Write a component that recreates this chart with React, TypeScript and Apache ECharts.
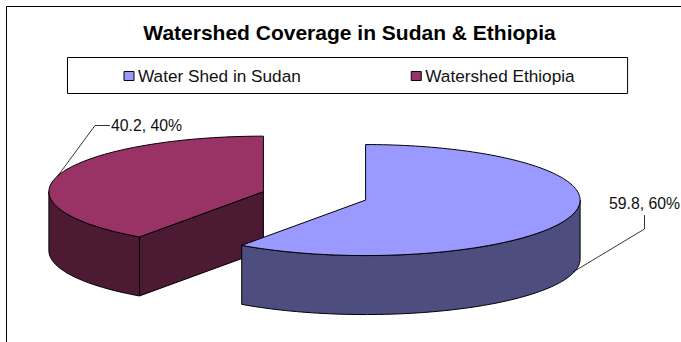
import React, { useEffect, useRef } from "react";
import * as echarts from "echarts";

const titleText = "Watershed Coverage in Sudan & Ethiopia";
const sliceNames = ["Water Shed in Sudan", "Watershed Ethiopia"];
const sliceValues = [59.8, 40.2];
const topColors = ["#9999FF", "#993366"];
const sideColors = ["#4D4D80", "#4D1A33"];
// Callout routes, starting next to the text and ending on the rim of the slice.
const leaderRoutes = [
  [[644.5, 215], [644.5, 229], [573, 272]],
  [[110, 125.5], [95, 125.5], [57, 177]],
];
const labelAnchors = [
  { x: 644.5, y: 203 },
  { x: 146.5, y: 125 },
];

const FONT = '"Liberation Sans", Arial, sans-serif';
const PIE = { cx: 314.5, cy: 195.85, rx: 214.5, ry: 55.5, depth: 59, explode: 0.25 };
const total = sliceValues.reduce((a, b) => a + b, 0);

function rimPoint(cx: number, cy: number, deg: number) {
  const r = (deg * Math.PI) / 180;
  return [cx + PIE.rx * Math.sin(r), cy - PIE.ry * Math.cos(r)];
}

function arcPoints(cx: number, cy: number, from: number, to: number) {
  const steps = Math.max(2, Math.ceil((to - from) / 1.5));
  const pts: number[][] = [];
  for (let i = 0; i <= steps; i++) pts.push(rimPoint(cx, cy, from + ((to - from) * i) / steps));
  return pts;
}

// One exploded slice: lit top face, visible outer wall, visible cut faces, callout.
function renderSlice(index: number) {
  const value = sliceValues[index];
  const before = sliceValues.slice(0, index).reduce((a, b) => a + b, 0);
  const start = (before / total) * 360;
  const end = ((before + value) / total) * 360;
  const mid = (((start + end) / 2) * Math.PI) / 180;
  const cx = PIE.cx + PIE.explode * PIE.rx * Math.sin(mid);
  const cy = PIE.cy - PIE.explode * PIE.ry * Math.cos(mid);
  const lineStyle = { stroke: "#000", lineWidth: 1 };
  const children: any[] = [];

  const cutFace = (deg: number) => {
    const p = rimPoint(cx, cy, deg);
    children.push({
      type: "polygon",
      shape: { points: [[cx, cy], p, [p[0], p[1] + PIE.depth], [cx, cy + PIE.depth]] },
      style: { fill: sideColors[index], ...lineStyle },
    });
  };
  if (Math.sin((start * Math.PI) / 180) < -1e-6) cutFace(start);
  if (Math.sin((end * Math.PI) / 180) > 1e-6) cutFace(end);

  const wallFrom = Math.max(start, 90);
  const wallTo = Math.min(end, 270);
  if (wallTo > wallFrom) {
    const arc = arcPoints(cx, cy, wallFrom, wallTo);
    const lower = arc.map((p) => [p[0], p[1] + PIE.depth]).reverse();
    children.push({
      type: "polygon",
      shape: { points: [...arc, ...lower] },
      style: { fill: sideColors[index], ...lineStyle },
    });
  }

  children.push({
    type: "polygon",
    shape: { points: [[cx, cy], ...arcPoints(cx, cy, start, end)] },
    style: { fill: topColors[index], ...lineStyle },
  });

  children.push({
    type: "polyline",
    shape: { points: leaderRoutes[index] },
    style: { fill: "none", stroke: "#000", lineWidth: 0.8 },
  });
  children.push({
    type: "text",
    style: {
      x: labelAnchors[index].x,
      y: labelAnchors[index].y,
      text: `${value}, ${Math.round((value / total) * 100)}%`,
      font: `15.8px ${FONT}`,
      fill: "#111",
      align: "center",
      verticalAlign: "middle",
    },
  });
  return { type: "group", children };
}

export default function App() {
  const ref = useRef<HTMLDivElement>(null);
  useEffect(() => {
    document.body.style.margin = "0";
    const chart = echarts.init(ref.current!, undefined, { renderer: "svg" });
    chart.setOption({
      animation: false,
      backgroundColor: "#fff",
      title: {
        text: titleText,
        left: 349.5,
        textAlign: "center",
        top: 22,
        padding: 0,
        textStyle: { fontFamily: FONT, fontSize: 21, fontWeight: "bold", color: "#000" },
      },
      legend: {
        left: 67.5,
        top: 57.5,
        padding: [10, 53, 9, 56],
        itemGap: 110,
        itemWidth: 10,
        itemHeight: 9,
        itemStyle: { borderColor: "#000", borderWidth: 1 },
        icon: "rect",
        backgroundColor: "#fff",
        borderColor: "#000",
        borderWidth: 1,
        selectedMode: false,
        data: sliceNames,
        textStyle: { fontFamily: FONT, fontSize: 17.2, color: "#111", padding: [0, 0, 0, -1] },
      },
      graphic: [
        {
          type: "rect",
          z: -1,
          shape: { x: 6.5, y: 6.5, width: 720, height: 400 },
          style: { fill: "#fff", stroke: "#000", lineWidth: 1 },
        },
      ],
      series: sliceNames.map((name, i) => ({
        type: "custom",
        name,
        coordinateSystem: "none",
        // Ethiopia is painted first so that the Sudan wall overlaps it.
        z: i === 0 ? 3 : 2,
        itemStyle: { color: topColors[i] },
        data: [sliceValues[i]],
        renderItem: () => renderSlice(i),
      })),
    });
    return () => chart.dispose();
  }, []);
  return <div ref={ref} style={{ width: 681, height: 342 }} />;
}
